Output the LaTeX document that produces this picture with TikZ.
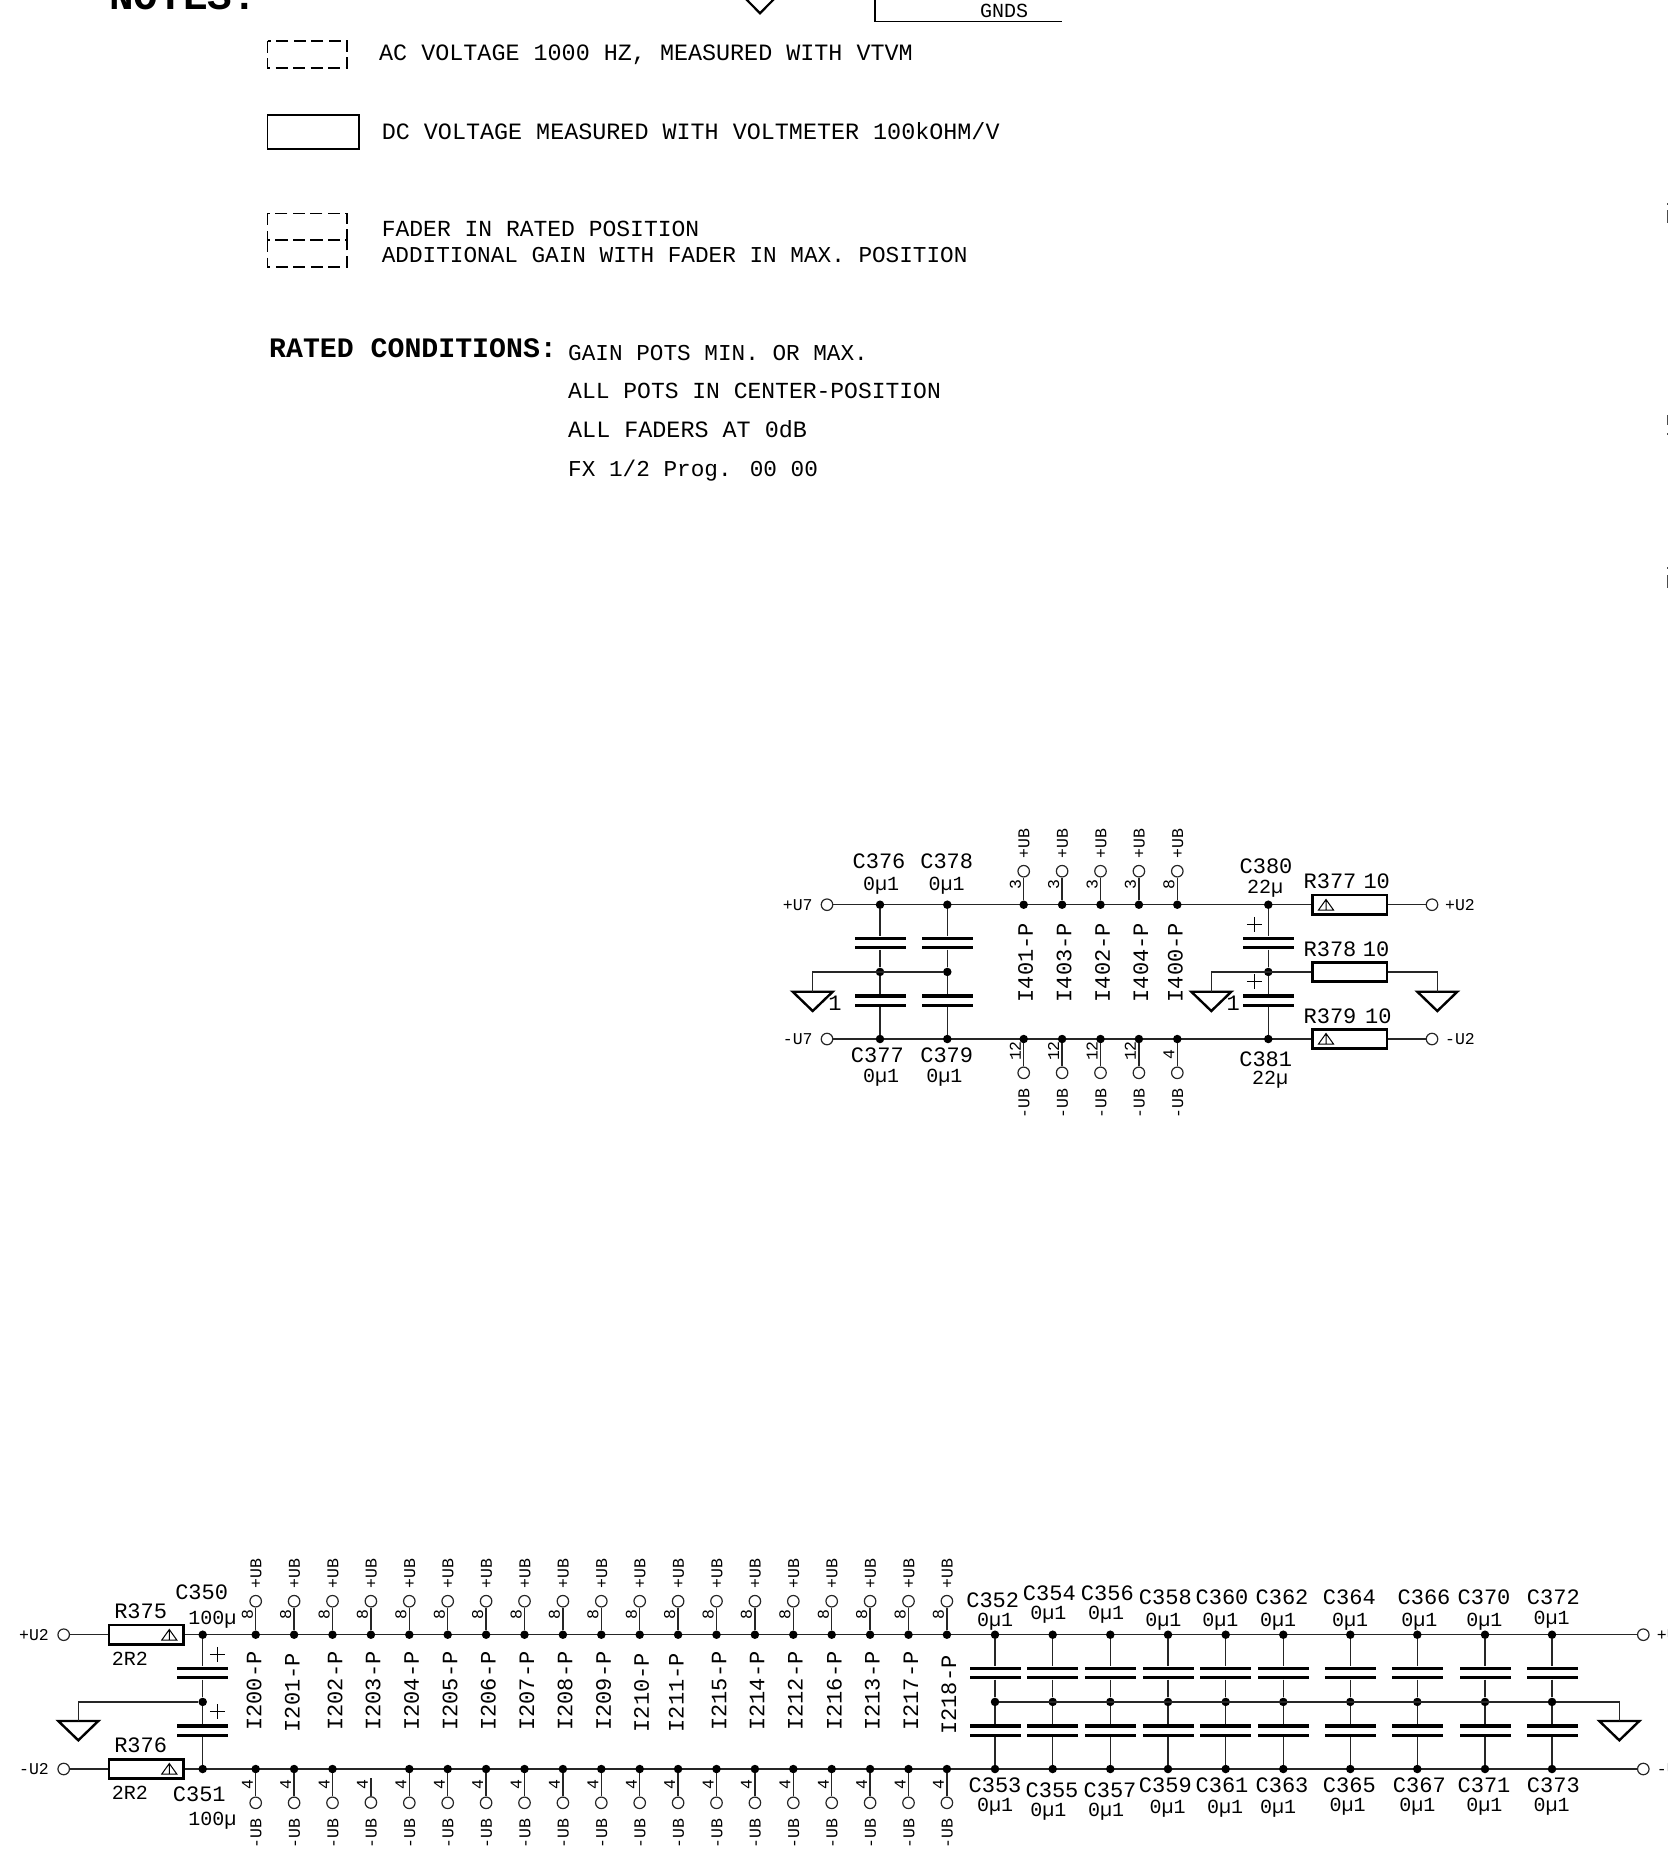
\documentclass[tikz,border=0pt]{standalone}
\usepackage{fontspec}
\newfontfamily\cad{Liberation Mono}
\tikzset{
  tL/.style={font=\cad\fontsize{22}{22}\selectfont,inner sep=0pt,text height=14.5pt,text depth=0pt},
  tV/.style={font=\cad\fontsize{20}{20}\selectfont,inner sep=0pt,text height=13.2pt,text depth=0pt},
  tS/.style={font=\cad\fontsize{16.5}{16.5}\selectfont,inner sep=0pt,text height=10.9pt,text depth=0pt},
  tI/.style={font=\cad\fontsize{22}{22}\selectfont,inner sep=0pt,text height=14.5pt,text depth=0pt,rotate=90},
  tN/.style={font=\cad\fontsize{23.4}{23.4}\selectfont,inner sep=0pt,text height=15.4pt,text depth=0pt,anchor=west},
  tNa/.style={font=\cad\fontsize{23}{23}\selectfont,inner sep=0pt,text height=15.4pt,text depth=0pt,anchor=west},
  tNb/.style={font=\cad\fontsize{22.7}{22.7}\selectfont,inner sep=0pt,text height=15.4pt,text depth=0pt,anchor=west},
  tB/.style={font=\cad\bfseries\fontsize{28.2}{28.2}\selectfont,inner sep=0pt,text height=18.5pt,text depth=0pt,anchor=west},
  wire/.style={line width=1.3pt,black!85},
  dotn/.style={circle,fill=black,inner sep=0pt,minimum size=8.5pt},
  term/.style={circle,draw=black!85,fill=white,line width=1.2pt,inner sep=0pt,minimum size=11.5pt},
  plate/.style={fill=black,inner sep=0pt,minimum width=51pt,minimum height=3.2pt},
  res/.style={draw=black,line width=2.6pt,fill=white,inner sep=0pt,minimum width=74.5pt,minimum height=19.5pt},
  gndsym/.style={line width=2.4pt,line join=miter},
  dashbox/.style={line width=1.6pt,dash pattern=on 12pt off 5.5pt},
}
% capacitor stack: name, x, y of upper rail
\newcommand{\capstack}[3]{%
  \node[dotn] (#1t) at (#2,#3) {};
  \node[dotn] (#1m) at (#2,#3+67.2) {};
  \node[dotn] (#1b) at (#2,#3+134.3) {};
  \node[plate] (#1a) at (#2,#3+33.5) {};
  \node[plate] (#1c) at (#2,#3+43) {};
  \node[plate] (#1d) at (#2,#3+91.2) {};
  \node[plate] (#1e) at (#2,#3+100.9) {};
  \draw[wire] (#1t) -- (#1a);
  \draw[wire] (#1c) -- (#1m);
  \draw[wire] (#1m) -- (#1d);
  \draw[wire] (#1e) -- (#1b);
}
% upper pin: name, x, rail y, number
\newcommand{\pinup}[4]{%
  \node[dotn] (#1d) at (#2,#3) {};
  \node[term] (#1o) at (#2,#3-33.5) {};
  \draw[wire] (#1d) -- (#1o);
  \node[tS,rotate=90] (#1n) at (#2-8.4,#3-20) {#4};
  \node[tS,rotate=90] (#1u) at (#2+.3,#3-61.5) {+UB};
}
% lower pin: name, x, rail y, number, number offset
\newcommand{\pindn}[5]{%
  \node[dotn] (#1d) at (#2,#3) {};
  \node[term] (#1o) at (#2,#3+33.8) {};
  \draw[wire] (#1d) -- (#1o);
  \node[tS,rotate=90] (#1n) at (#2-8.4,#3+#5) {#4};
  \node[tS,rotate=90] (#1u) at (#2+.3,#3+64.3) {-UB};
}
% ground symbol: name, x, y of top
\newcommand{\gnd}[3]{%
  \coordinate (#1) at (#2,#3);
  \draw[gndsym] (#2-20,#3) -- (#2+20,#3) -- (#2,#3+19.3) -- cycle;
}
% warning mark inside a resistor
\newcommand{\warn}[2]{%
  \draw[line width=1pt] (#1-7.5,#2+5) -- (#1+7.5,#2+5) -- (#1,#2-5.5) -- cycle (#1,#2-5.5) -- (#1,#2+5);
}
% plus mark
\newcommand{\plusm}[2]{%
  \draw[line width=.8pt] (#1-7.5,#2) -- (#1+7.5,#2) (#1,#2-7.5) -- (#1,#2+7.5);
}
\begin{document}
\begin{tikzpicture}[x=1pt,y=-1pt]
\fill[white] (0,0) rectangle (1668,1864);
\clip (0,0) rectangle (1668,1864);

% --- top fragments
\node[font=\cad\bfseries\fontsize{41}{41}\selectfont,inner sep=0pt,anchor=base west] (notes) at (109,9.5) {NOTES:};
\draw[line width=2.2pt] (746,-1) -- (760,13.3) -- (774,-1);
\draw[line width=1.2pt] (875,-2) -- (875,21.7) -- (1062,21.7);
\node[font=\cad\fontsize{20}{20}\selectfont,inner sep=0pt,text height=13.2pt,text depth=0pt] (gnds) at (1004,10.5) {GNDS};

% --- legend
\draw[dashbox] (267.5,40.7) rectangle (347,67.7);
\node[tN] (t1) at (379,52.7) {AC VOLTAGE 1000 HZ, MEASURED WITH VTVM};
\draw[line width=1.7pt] (267.5,115) rectangle (359,149);
\node[tN] (t2) at (381.6,131.7) {DC VOLTAGE MEASURED WITH VOLTMETER 100kOHM/V};
\draw[dashbox] (267.5,213.3) rectangle (347,240);
\draw[dashbox] (267.5,240) rectangle (347,266.7);
\node[tNa] (t3) at (381.6,228.3) {FADER IN RATED POSITION};
\node[tNb] (t4) at (381.6,254.7) {ADDITIONAL GAIN WITH FADER IN MAX. POSITION};
\node[tB] (t5) at (269,348) {RATED CONDITIONS:};
\node[tNb] (t6) at (568,352.7) {GAIN POTS MIN. OR MAX.};
\node[tNa] (t7) at (568,391) {ALL POTS IN CENTER-POSITION};
\node[tN] (t8) at (568,429.3) {ALL FADERS AT 0dB};
\node[tNb] (t9) at (568,468.3) {FX 1/2 Prog. 00 00};

% --- clipped fragments at the right edge
\draw[line width=1.6pt,black!70] (1667.5,203) -- (1667.5,205) (1667.5,210) -- (1667.5,223)
  (1667.5,415) -- (1667.5,425) (1667.5,433) -- (1667.5,435)
  (1667.5,567) -- (1667.5,569) (1667.5,575) -- (1667.5,588);

% ============ middle circuit
\node[res] (R377) at (1349.7,904.7) {};
\node[res] (R378) at (1349.7,972) {};
\node[res] (R379) at (1349.7,1039) {};
\node[term] (ua) at (827,904.7) {};
\node[term] (ub) at (827,1039) {};
\node[term] (uc) at (1432,904.7) {};
\node[term] (ud) at (1432,1039) {};
\draw[wire] (ua) -- (R377);
\draw[wire] (ub) -- (R379);
\draw[wire] (R377) -- (uc);
\draw[wire] (R379) -- (ud);
\capstack{ca}{880}{904.7}
\capstack{cb}{947.3}{904.7}
\capstack{cc}{1268.3}{904.7}
\gnd{ga}{812.7}{991.7}
\gnd{gb}{1211.3}{991.7}
\gnd{gc}{1437.3}{991.7}
\draw[wire] (ga) |- (cbm);
\draw[wire] (gb) |- (R378);
\draw[wire] (R378) -| (gc);
\warn{1326}{905}
\warn{1326}{1039}
\plusm{1254.3}{924.3}
\plusm{1254.3}{981.7}

\node[tS] (lua) at (797.7,904.7) {+U7};
\node[tS] (lub) at (797.7,1039) {-U7};
\node[tS] (luc) at (1460,904.7) {+U2};
\node[tS] (lud) at (1460,1039) {-U2};
\node[tL] (o1) at (835,1003) {1};
\node[tL] (o2) at (1233.3,1003) {1};

\node[tL] at (879,861.7) {C376};
\node[tV] at (881,884) {0µ1};
\node[tL] at (946.7,861.7) {C378};
\node[tV] at (946.7,884) {0µ1};
\node[tL] at (877.3,1055.7) {C377};
\node[tV] at (881,1076) {0µ1};
\node[tL] at (946.7,1055.7) {C379};
\node[tV] at (944.3,1076) {0µ1};
\node[tL] at (1266,866.7) {C380};
\node[tV] at (1265,887.3) {22µ};
\node[tL] at (1265.7,1059) {C381};
\node[tV] at (1270,1077.7) {22µ};
\node[tL] at (1330,881) {R377};
\node[tL] at (1376.7,881) {10};
\node[tL] at (1330,949) {R378};
\node[tL] at (1376,949) {10};
\node[tL] at (1330,1016.3) {R379};
\node[tL] at (1378.3,1016.3) {10};

\foreach \i/\num/\lab/\nb/\nbo/\lx in {0/3/I401-P/12/12/2,1/3/I403-P/12/12/2,2/3/I402-P/12/12/2,3/3/I404-P/12/12/2,4/8/I400-P/4/16/-2}{
  \pgfmathsetmacro{\px}{1023.7+38.4*\i}
  \pinup{mu\i}{\px}{904.7}{\num}
  \pindn{md\i}{\px}{1039}{\nb}{\nbo}
  \node[tI] (ml\i) at (\px+\lx,962.7) {\lab};
}

% ============ bottom circuit
\node[res] (R375) at (146.3,1634.7) {};
\node[res] (R376) at (146.3,1769) {};
\node[term] (ve) at (63.7,1634.7) {};
\node[term] (vf) at (63.7,1769) {};
\node[term] (vg) at (1643.3,1634.7) {};
\node[term] (vh) at (1643.3,1769) {};
\draw[wire] (ve) -- (R375);
\draw[wire] (vf) -- (R376);
\draw[wire] (R375) -- (vg);
\draw[wire] (R376) -- (vh);
\warn{169.3}{1635}
\warn{169.3}{1769}
\capstack{c350}{202.7}{1634.7}
\plusm{217.3}{1654.3}
\plusm{217.3}{1711.7}
\gnd{gd}{78.3}{1721}
\gnd{ge}{1619.3}{1721}
\draw[wire] (gd) |- (c350m);

\node[tS] at (34,1634.7) {+U2};
\node[tS] at (34,1769) {-U2};
\node[tS,anchor=west] at (1656.7,1634.7) {+U2};
\node[tS,anchor=west] at (1656.7,1769) {-U2};
\node[tL] at (140.7,1611) {R375};
\node[tV] at (130,1659) {2R2};
\node[tL] at (140.7,1745.7) {R376};
\node[tV] at (130,1793.3) {2R2};
\node[tL] at (201.7,1592.7) {C350};
\node[tV] at (212.3,1617.7) {100µ};
\node[tL] at (199.3,1794.3) {C351};
\node[tV] at (212.3,1819.3) {100µ};

\foreach \i/\lab/\lx/\ly in {0/I200-P/-1.7/1691,1/I201-P/-1.7/1692.7,2/I202-P/2.7/1691,3/I203-P/2.3/1691,4/I204-P/2.3/1691,5/I205-P/2.3/1691,6/I206-P/2.3/1691,7/I207-P/2.3/1691,8/I208-P/2.3/1691,9/I209-P/2.3/1691,10/I210-P/2/1692.7,11/I211-P/-1.7/1692.7,12/I215-P/2.7/1691,13/I214-P/2.3/1691,14/I212-P/2/1691,15/I216-P/2.7/1691,16/I213-P/2.3/1691,17/I217-P/2.3/1691,18/I218-P/2/1695}{
  \pgfmathsetmacro{\px}{255.7+38.4*\i}
  \pinup{bu\i}{\px}{1634.7}{8}
  \node[tI] (bl\i) at (\px+\lx,\ly) {\lab};
}
\foreach \i in {0,1,2,4,5,6,7,8,9,10,11,12,13,14,15,16,17,18}{
  \pgfmathsetmacro{\px}{255.7+38.4*\i}
  \pindn{bd\i}{\px}{1769}{4}{16}
}
% open pin of I203
\node[term] (bd3o) at (370.9,1802.5) {};
\coordinate (bd3e) at (370.9,1778.3);
\draw[wire] (bd3o) -- (bd3e);
\node[tS,rotate=90] at (362.5,1785) {4};
\node[tS,rotate=90] at (371.2,1833.3) {-UB};

% capacitor bank
\foreach \n/\x in {352/995,354/1052.7,356/1110.3,358/1168,360/1225.7,362/1283.3,364/1350.3,366/1417.3,370/1485,372/1552}{
  \capstack{k\n}{\x}{1634.7}
}
\draw[wire] (k352m) -- (k372m);
\draw[wire] (k372m) -| (ge);

\foreach \t/\x/\y/\vx/\vy in {C352/992.7/1600/995/1620,C354/1049.3/1593.3/1048.3/1613.3,C356/1107.3/1593.3/1106/1613.3,C358/1165.3/1597.3/1163.3/1620,C360/1222/1597.3/1220.3/1620,C362/1282/1597.3/1278/1620,C364/1349.3/1597.3/1350/1620,C366/1424/1597.3/1419.3/1620,C370/1484/1597.3/1484.3/1620,C372/1553.3/1597.3/1551.7/1617.7,
C353/995/1785/995/1805,C355/1052/1790/1048.3/1810,C357/1110/1790/1106/1810,C359/1165.3/1785/1167.7/1807.3,C361/1222/1785/1225/1807.3,C363/1282/1785/1278/1807.3,C365/1349.3/1785/1347.7/1805,C367/1419.3/1785/1417.3/1805,C371/1484/1785/1484.3/1805,C373/1553.3/1785/1551.7/1805}{
  \node[tL] (n\t) at (\x,\y) {\t};
  \node[tV] (v\t) at (\vx,\vy) {0µ1};
}
\end{tikzpicture}
\end{document}
